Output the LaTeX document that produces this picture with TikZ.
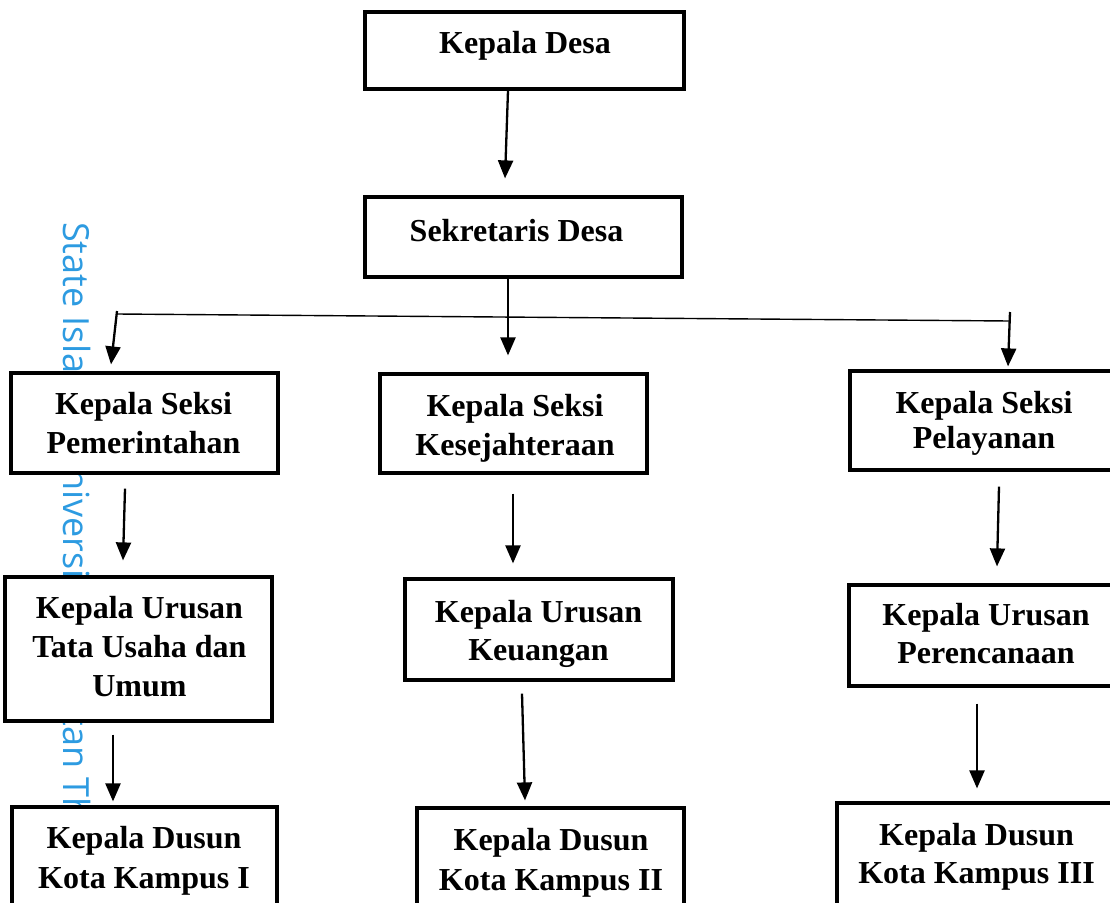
\documentclass[tikz,border=0pt]{standalone}
\usepackage{fontspec}
\setmainfont{Liberation Serif}
\newfontfamily\wmfont{Open Sans}
\usetikzlibrary{arrows.meta,calc}
\definecolor{wmblue}{RGB}{45,155,225}
\begin{document}
\begin{tikzpicture}[x=1pt,y=-1pt,
  box/.style={draw, line width=3.2pt, fill=white, inner sep=0pt},
  txt/.style={font=\fontsize{32}{39}\selectfont\bfseries, align=center, inner sep=0pt},
  arr/.style={-{Triangle[length=18pt,width=15pt]}, line width=2.3pt},
  thin/.style={line width=1.4pt},
  wm/.style={font=\wmfont\fontsize{36}{40}\selectfont, text=wmblue, inner sep=0pt}
]
\useasboundingbox (0,0) rectangle (1110,902);
\clip (0,0) rectangle (1110,902);

% watermark (its end lies behind the bottom-left box)
\node[wm, rotate=-90, anchor=base west] (wmk) at (63,222) {State Islamic University of Sultan Thaha};

% boxes
\node[box, minimum width=319pt, minimum height=77pt,
  label={[txt,shift={(0.5,-5)}]center:Kepala Desa}] (kd) at (524.5,50.5) {};
\node[box, minimum width=317pt, minimum height=80pt,
  label={[txt,shift={(-7,-6.5)}]center:Sekretaris Desa}] (sd) at (523.5,237) {};

\node[box, minimum width=267pt, minimum height=100pt,
  label={[txt,shift={(-1,0)}]center:{Kepala Seksi\\Pemerintahan}}] (ks1) at (144.5,423) {};
\node[box, minimum width=267pt, minimum height=99pt,
  label={[txt,shift={(1.5,4.5)}]center:{Kepala Seksi\\Kesejahteraan}}] (ks2) at (513.5,423.5) {};
\node[box, minimum width=272pt, minimum height=99pt,
  label={[txt,font=\fontsize{32}{35}\selectfont\bfseries,shift={(-2,2.5)}]center:{Kepala Seksi\\Pelayanan}}] (ks3) at (986,420.5) {};

\node[box, minimum width=267pt, minimum height=144pt,
  label={[txt,shift={(1,-2)}]center:{Kepala Urusan\\Tata Usaha dan\\Umum}}] (ku1) at (138.5,649) {};
\node[box, minimum width=268pt, minimum height=101pt,
  label={[txt,font=\fontsize{32}{38}\selectfont\bfseries,shift={(-0.5,4)}]center:{Kepala Urusan\\Keuangan}}] (ku2) at (539,629.5) {};
\node[box, minimum width=273pt, minimum height=101pt,
  label={[txt,font=\fontsize{32}{38}\selectfont\bfseries,shift={(0.5,-2)}]center:{Kepala Urusan\\Perencanaan}}] (ku3) at (985.5,635.5) {};

\node[box, minimum width=265pt, minimum height=130pt,
  label={[txt,font=\fontsize{32}{40}\selectfont\bfseries,shift={(-0.5,-11)}]center:{Kepala Dusun\\Kota Kampus I}}] (kdu1) at (144.5,872) {};
\node[box, minimum width=267pt, minimum height=130pt,
  label={[txt,font=\fontsize{32}{40}\selectfont\bfseries,shift={(0.5,-10)}]center:{Kepala Dusun\\Kota Kampus II}}] (kdu2) at (550.5,873) {};
\node[box, minimum width=285pt, minimum height=130pt,
  label={[txt,font=\fontsize{32}{38}\selectfont\bfseries,shift={(-3,-11)}]center:{Kepala Dusun\\Kota Kampus III}}] (kdu3) at (979.5,868) {};

% branch line
\coordinate (hl) at (117,314);
\coordinate (hr) at (1010,321);
\draw[thin] (hl) -- (hr);

% connectors
\draw[arr] ($(kd.south)+(-16.5,0)$) -- ($(sd.north)+(-18.5,-17)$);
\draw[arr] ($(sd.south)+(-15.5,0)$) -- ($(ks2.north)+(-5.5,-17)$);
\draw[arr] ($(hl)+(0,-3)$) -- ($(ks1.north)+(-33.5,-7)$);
\draw[arr] ($(hr)+(0,-9)$) -- ($(ks3.north)+(22,-3)$);
\draw[arr] ($(ks1.south)+(-19.5,14)$) -- ($(ku1.north)+(-15.5,-15)$);
\draw[arr] ($(ks2.south)+(-0.5,19)$) -- ($(ku2.north)+(-26,-14)$);
\draw[arr] ($(ks3.south)+(13,15)$) -- ($(ku3.north)+(11.5,-17)$);
\draw[arr] ($(ku1.south)+(-25.5,12)$) -- ($(kdu1.north)+(-31.5,-4)$);
\draw[arr] ($(ku2.south)+(-17,12)$) -- ($(kdu2.north)+(-25.5,-6)$);
\draw[arr] ($(ku3.south)+(-8.5,16)$) -- ($(kdu3.north)+(-2.5,-13)$);
\end{tikzpicture}
\end{document}
